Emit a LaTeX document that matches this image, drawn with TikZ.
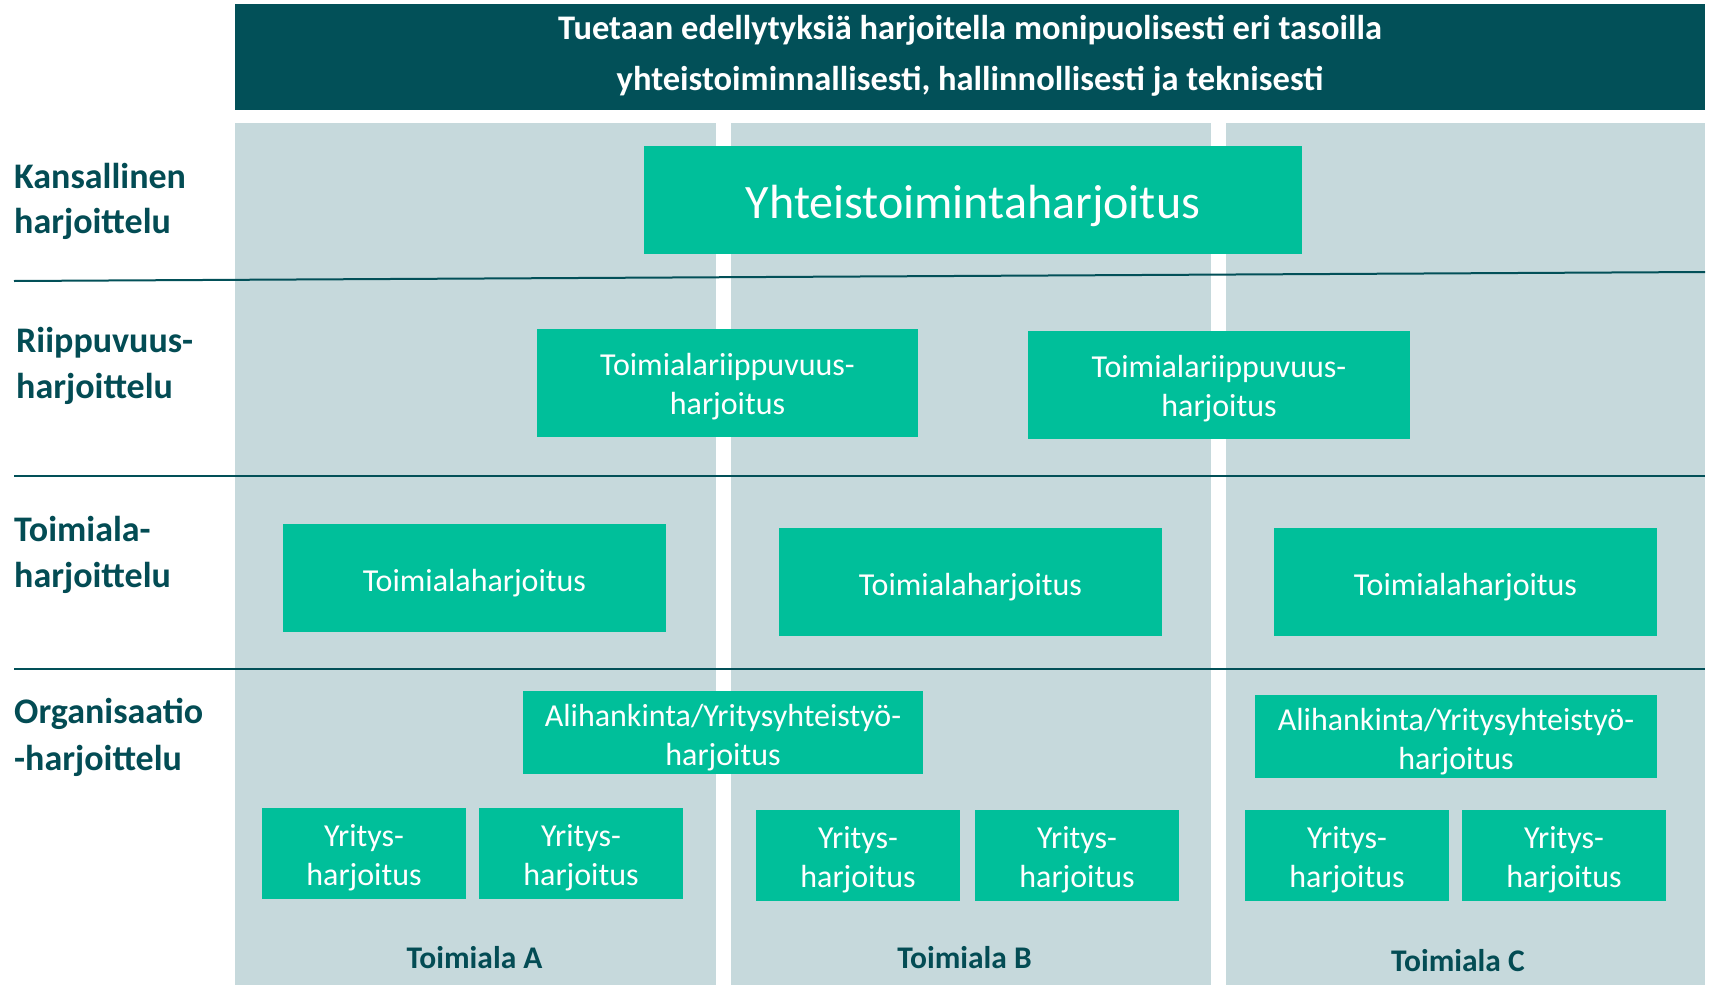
\documentclass[tikz,border=0pt]{standalone}
\usepackage{fontspec}
\setmainfont{Carlito}
\definecolor{hdr}{RGB}{2,80,88}
\definecolor{labc}{RGB}{3,76,84}
\definecolor{colgray}{RGB}{198,217,220}
\definecolor{boxgreen}{RGB}{0,191,154}
\begin{document}
\begin{tikzpicture}[x=1pt,y=-1pt,
  gbox/.style={fill=boxgreen, inner sep=0pt},
  gtext/.style={text=white, align=center, inner sep=0pt, font=\fontsize{32}{39}\selectfont, yshift=-4pt},
  gtextone/.style={gtext, yshift=-1.5pt},
  colbox/.style={fill=colgray, inner sep=0pt, anchor=north west},
  sepline/.style={draw=hdr, line width=2pt},
  lab/.style={anchor=base west, text=labc, inner sep=0pt, font=\bfseries\fontsize{36}{45}\selectfont},
  foot/.style={text=labc, inner sep=0pt, font=\bfseries\fontsize{31.5}{37}\selectfont}]
\useasboundingbox (0,0) rectangle (1716,985);
\fill[white] (0,0) rectangle (1716,985);
% header
\node[fill=hdr, inner sep=0pt, anchor=north west, minimum width=1470pt, minimum height=106pt] (hdrbox) at (235,4) {};
\node[text=white, align=center, inner sep=0pt, font=\bfseries\fontsize{34.5}{51}\selectfont] (hdrtext) at (970,56)
  {Tuetaan edellytyksiä harjoitella monipuolisesti eri tasoilla\\yhteistoiminnallisesti, hallinnollisesti ja teknisesti};
% columns
\node[colbox, minimum width=481pt, minimum height=862pt] (colA) at (235,123) {};
\node[colbox, minimum width=480pt, minimum height=862pt] (colB) at (731,123) {};
\node[colbox, minimum width=479pt, minimum height=862pt] (colC) at (1226,123) {};
% separator lines
\coordinate (s1a) at (14,281); \coordinate (s1b) at (1705,272);
\coordinate (s2a) at (14,476); \coordinate (s2b) at (1705,476);
\coordinate (s3a) at (14,669); \coordinate (s3b) at (1705,669);
\draw[sepline] (s1a) -- (s1b);
\draw[sepline] (s2a) -- (s2b);
\draw[sepline] (s3a) -- (s3b);
% left labels
\node[lab] (l1a) at (14,188) {Kansallinen};
\node[lab] (l1b) at (14,233) {harjoittelu};
\node[lab] (l2a) at (16,352) {Riippuvuus-};
\node[lab] (l2b) at (16,398) {harjoittelu};
\node[lab] (l3a) at (14,541) {Toimiala-};
\node[lab] (l3b) at (14,587) {harjoittelu};
\node[lab] (l4a) at (14,723) {Organisaatio};
\node[lab] (l4b) at (14,770) {-harjoittelu};
% boxes
\node[gbox, minimum width=658pt, minimum height=108pt,
  label={[gtextone, yshift=0pt, font=\fontsize{48}{58}\selectfont]center:Yhteistoimintaharjoitus}] (yht) at (973,200) {};
\node[gbox, minimum width=381pt, minimum height=108pt, label={[gtext]center:Toimialariippuvuus-\\harjoitus}] (rip1) at (727.5,383) {};
\node[gbox, minimum width=382pt, minimum height=108pt, label={[gtext]center:Toimialariippuvuus-\\harjoitus}] (rip2) at (1219,385) {};
\node[gbox, minimum width=383pt, minimum height=108pt, label={[gtextone]center:Toimialaharjoitus}] (toiA) at (474.5,578) {};
\node[gbox, minimum width=383pt, minimum height=108pt, label={[gtextone]center:Toimialaharjoitus}] (toiB) at (970.5,582) {};
\node[gbox, minimum width=383pt, minimum height=108pt, label={[gtextone]center:Toimialaharjoitus}] (toiC) at (1465.5,582) {};
\node[gbox, minimum width=400pt, minimum height=83pt, label={[gtext, yshift=-1.5pt]center:Alihankinta/Yritysyhteistyö-\\harjoitus}] (aliAB) at (723,732.5) {};
\node[gbox, minimum width=402pt, minimum height=83pt, label={[gtext, yshift=-1.5pt]center:Alihankinta/Yritysyhteistyö-\\harjoitus}] (aliC) at (1456,736.5) {};
\node[gbox, minimum width=204pt, minimum height=91pt, label={[gtext]center:Yritys-\\harjoitus}] (yA1) at (364,853.5) {};
\node[gbox, minimum width=204pt, minimum height=91pt, label={[gtext]center:Yritys-\\harjoitus}] (yA2) at (581,853.5) {};
\node[gbox, minimum width=204pt, minimum height=91pt, label={[gtext]center:Yritys-\\harjoitus}] (yB1) at (858,855.5) {};
\node[gbox, minimum width=204pt, minimum height=91pt, label={[gtext]center:Yritys-\\harjoitus}] (yB2) at (1077,855.5) {};
\node[gbox, minimum width=204pt, minimum height=91pt, label={[gtext]center:Yritys-\\harjoitus}] (yC1) at (1347,855.5) {};
\node[gbox, minimum width=204pt, minimum height=91pt, label={[gtext]center:Yritys-\\harjoitus}] (yC2) at (1564,855.5) {};
% footer labels
\node[foot] (fA) at (474.5,958) {Toimiala A};
\node[foot] (fB) at (964.5,958) {Toimiala B};
\node[foot] (fC) at (1458,961) {Toimiala C};
\end{tikzpicture}
\end{document}
